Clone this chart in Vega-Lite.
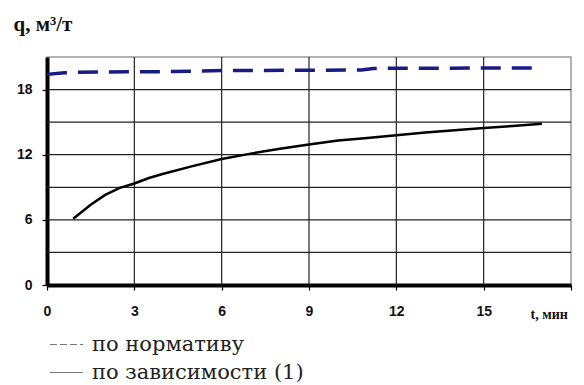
{
  "$schema": "https://vega.github.io/schema/vega-lite/v6.json",
  "width": 524,
  "height": 228,
  "autosize": {"type": "none"},
  "padding": {"left": 47, "top": 57, "right": 13, "bottom": 100},
  "background": "white",
  "config": {"view": {"stroke": "#999", "strokeWidth": 1.5}},
  "datasets": {
    "gridT": [{"t": 3}, {"t": 6}, {"t": 9}, {"t": 12}, {"t": 15}],
    "gridQ": [{"q": 3}, {"q": 6}, {"q": 9}, {"q": 12}, {"q": 15}, {"q": 18}],
    "series": [
      {"t": 0, "q": 19.4, "series": "по нормативу"},
      {"t": 0.6, "q": 19.55, "series": "по нормативу"},
      {"t": 1, "q": 19.6, "series": "по нормативу"},
      {"t": 4, "q": 19.65, "series": "по нормативу"},
      {"t": 6, "q": 19.75, "series": "по нормативу"},
      {"t": 10.8, "q": 19.8, "series": "по нормативу"},
      {"t": 11.2, "q": 19.95, "series": "по нормативу"},
      {"t": 17, "q": 20.0, "series": "по нормативу"},
      {"t": 0.9, "q": 6.1, "series": "по зависимости (1)"},
      {"t": 1.5, "q": 7.4, "series": "по зависимости (1)"},
      {"t": 2, "q": 8.3, "series": "по зависимости (1)"},
      {"t": 2.5, "q": 8.95, "series": "по зависимости (1)"},
      {"t": 3, "q": 9.35, "series": "по зависимости (1)"},
      {"t": 3.5, "q": 9.85, "series": "по зависимости (1)"},
      {"t": 4, "q": 10.25, "series": "по зависимости (1)"},
      {"t": 5, "q": 10.95, "series": "по зависимости (1)"},
      {"t": 6, "q": 11.6, "series": "по зависимости (1)"},
      {"t": 7, "q": 12.1, "series": "по зависимости (1)"},
      {"t": 8, "q": 12.55, "series": "по зависимости (1)"},
      {"t": 9, "q": 12.95, "series": "по зависимости (1)"},
      {"t": 10, "q": 13.3, "series": "по зависимости (1)"},
      {"t": 11, "q": 13.55, "series": "по зависимости (1)"},
      {"t": 12, "q": 13.8, "series": "по зависимости (1)"},
      {"t": 13, "q": 14.05, "series": "по зависимости (1)"},
      {"t": 14, "q": 14.25, "series": "по зависимости (1)"},
      {"t": 15, "q": 14.45, "series": "по зависимости (1)"},
      {"t": 16, "q": 14.65, "series": "по зависимости (1)"},
      {"t": 17, "q": 14.85, "series": "по зависимости (1)"}
    ]
  },
  "layer": [
    {
      "data": {"name": "gridT"},
      "mark": {"type": "rule", "color": "#222", "strokeWidth": 1.2},
      "encoding": {
        "x": {"field": "t", "type": "quantitative", "scale": {"domain": [0, 18], "nice": false, "zero": false}}
      }
    },
    {
      "data": {"name": "gridQ"},
      "mark": {"type": "rule", "color": "#222", "strokeWidth": 1.2},
      "encoding": {
        "y": {"field": "q", "type": "quantitative", "scale": {"domain": [0, 21], "nice": false}}
      }
    },
    {
      "data": {"name": "series"},
      "transform": [{"filter": "datum.series === 'по нормативу'"}],
      "mark": {"type": "line", "color": "#1a1a85", "strokeWidth": 3.5, "strokeDash": [20, 11]},
      "encoding": {
        "x": {
          "field": "t",
          "type": "quantitative",
          "scale": {"domain": [0, 18], "nice": false, "zero": false},
          "axis": {
            "values": [0, 3, 6, 9, 12, 15, 18],
            "labelExpr": "datum.value == 18 ? '' : datum.label",
            "labelFlush": false,
            "labelOverlap": false,
            "grid": false,
            "domainColor": "black",
            "domainWidth": 4,
            "tickColor": "black",
            "tickSize": 5,
            "tickWidth": 1.2,
            "labelFont": "Liberation Sans",
            "labelFontWeight": "bold",
            "labelFontSize": 14,
            "labelColor": "#111",
            "labelPadding": 14,
            "title": "t, мин",
            "titleFont": "Liberation Serif",
            "titleFontSize": 14,
            "titleFontWeight": "bold",
            "titleColor": "#111",
            "titleX": 483,
            "titleY": 33,
            "titleAlign": "left",
            "titleBaseline": "alphabetic"
          }
        },
        "y": {
          "field": "q",
          "type": "quantitative",
          "scale": {"domain": [0, 21], "nice": false},
          "axis": {
            "values": [0, 3, 6, 9, 12, 15, 18, 21],
            "grid": false,
            "domainColor": "black",
            "domainWidth": 4,
            "tickColor": "black",
            "tickSize": 5,
            "tickWidth": 1.2,
            "labelFont": "Liberation Sans",
            "labelFontWeight": "bold",
            "labelFontSize": 14,
            "labelColor": "#111",
            "labelPadding": 10,
            "title": "q, м³/т",
            "titleAngle": 0,
            "titleFont": "Liberation Serif",
            "titleFontSize": 21,
            "titleFontWeight": "bold",
            "titleColor": "#111",
            "titleX": -34,
            "titleY": -27,
            "titleAlign": "left",
            "titleBaseline": "alphabetic"
          }
        }
      }
    },
    {
      "data": {"name": "series"},
      "transform": [{"filter": "datum.series === 'по зависимости (1)'"}],
      "mark": {"type": "line", "color": "black", "strokeWidth": 2.5},
      "encoding": {
        "x": {"field": "t", "type": "quantitative", "scale": {"domain": [0, 18], "nice": false, "zero": false}},
        "y": {"field": "q", "type": "quantitative", "scale": {"domain": [0, 21], "nice": false}}
      }
    },
    {
      "data": {"name": "series"},
      "transform": [{"filter": "datum.t > 100"}],
      "mark": {"type": "line", "color": "#777", "strokeWidth": 1.2},
      "encoding": {
        "x": {"field": "t", "type": "quantitative", "scale": {"domain": [0, 18], "nice": false, "zero": false}},
        "y": {"field": "q", "type": "quantitative", "scale": {"domain": [0, 21], "nice": false}},
        "strokeDash": {
          "field": "series",
          "type": "nominal",
          "scale": {"domain": ["по нормативу", "по зависимости (1)"], "range": [[7, 3], [1, 0]]},
          "legend": {
            "orient": "none",
            "legendX": 2,
            "legendY": 270,
            "title": null,
            "symbolType": "stroke",
            "symbolSize": 1100,
            "symbolStrokeWidth": 1.2,
            "symbolStrokeColor": "#777",
            "labelFont": "DejaVu Serif",
            "labelFontSize": 21,
            "labelColor": "#222",
            "labelLimit": 400,
            "labelOffset": 8,
            "rowPadding": -4,
            "direction": "vertical"
          }
        }
      }
    }
  ]
}
